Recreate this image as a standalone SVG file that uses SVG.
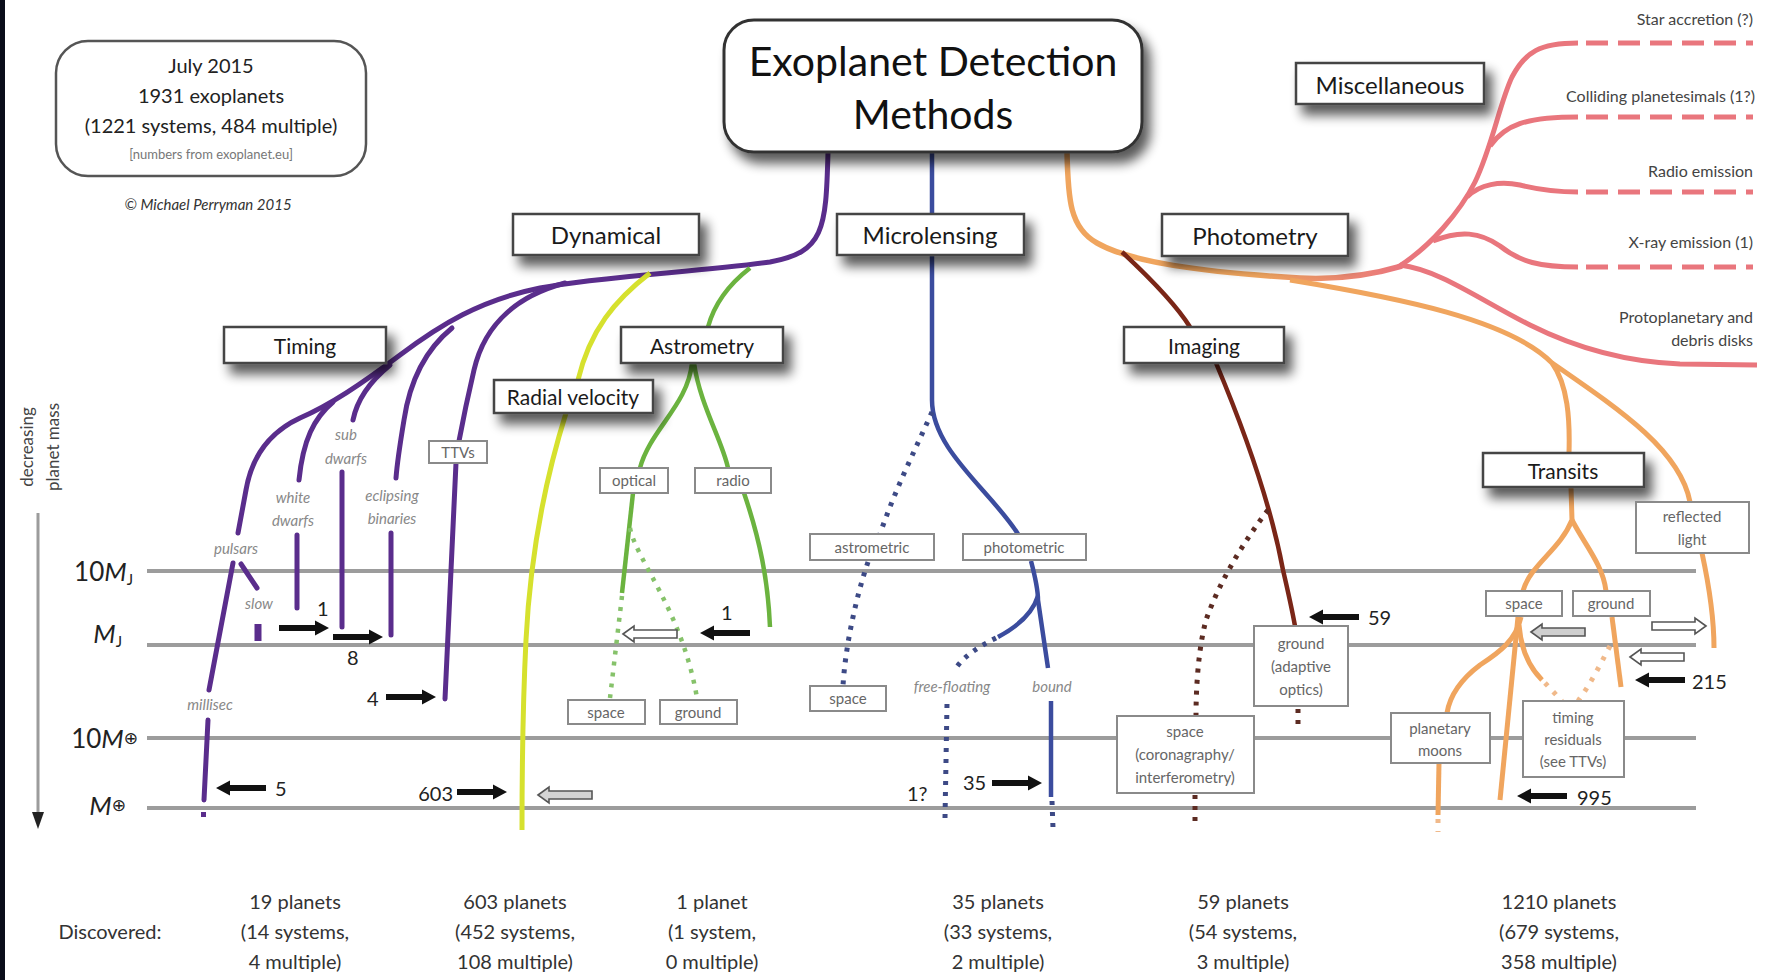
<svg xmlns="http://www.w3.org/2000/svg" width="1767" height="980" viewBox="0 0 1767 980">
<defs>
<filter id="sh" x="-20%" y="-40%" width="150%" height="220%">
<feGaussianBlur in="SourceAlpha" stdDeviation="6"/>
<feOffset dx="7" dy="10"/>
<feComponentTransfer><feFuncA type="linear" slope="0.65"/></feComponentTransfer>
<feMerge><feMergeNode/><feMergeNode in="SourceGraphic"/></feMerge>
</filter>
<linearGradient id="op" x1="1260" y1="0" x2="1400" y2="0" gradientUnits="userSpaceOnUse">
<stop offset="0" stop-color="#f0a55e"/><stop offset="1" stop-color="#e9767d"/>
</linearGradient>
<path id="barr" d="M0,-3 L36,-3 L36,-7.5 L50,0 L36,7.5 L36,3 L0,3 Z"/>
<path id="harr" d="M0,0 L11,-8 L11,-4 L54,-4 L54,4 L11,4 L11,8 Z"/>
<style>
text{font-family:Lato,'Open Sans','Liberation Sans',sans-serif}
.big{fill:#fff;stroke:#444;stroke-width:2.5}
.sm{fill:#fff;stroke:#8a8a8a;stroke-width:2}
.bt{font-size:24px;fill:#1a1a1a;text-anchor:middle;dominant-baseline:central}
.mt{font-size:21px;fill:#1a1a1a;text-anchor:middle;dominant-baseline:central}
.st{font-size:15px;fill:#666;text-anchor:middle;dominant-baseline:central}
.it{font-size:15px;fill:#888;text-anchor:middle;dominant-baseline:central;font-style:italic}
.num{font-size:20px;fill:#222;dominant-baseline:central}
.grid{stroke:#9c9c9c;stroke-width:4}
.pu{stroke:#5a2d8c;stroke-width:5;fill:none;stroke-linecap:round}
.yg{stroke:#d6e12e;stroke-width:5;fill:none}
.gr{stroke:#6bb33f;stroke-width:4.5;fill:none}
.grd{stroke:#86c26a;stroke-width:4.5;fill:none;stroke-dasharray:4 7}
.bl{stroke:#3b4c9e;stroke-width:4.5;fill:none}
.bld{stroke:#3d4a86;stroke-width:5;fill:none;stroke-dasharray:4 7}
.or{stroke:#f0a55e;stroke-width:5;fill:none}
.ord{stroke:#f0b98a;stroke-width:5;fill:none;stroke-dasharray:4 8}
.pk{stroke:#e9767d;stroke-width:5;fill:none}
.pkd{stroke:#e9767d;stroke-width:5;fill:none;stroke-dasharray:22 10}
.dr{stroke:#7a2617;stroke-width:4.5;fill:none}
.drd{stroke:#5c2b22;stroke-width:5;fill:none;stroke-dasharray:4 7}
.misc{font-size:16px;fill:#444;text-anchor:end}
.disc{font-size:20px;fill:#333;text-anchor:middle}
</style>
</defs>
<rect width="1767" height="980" fill="#fff"/>
<rect x="0" y="0" width="5" height="980" fill="#0a0d1a"/>

<!-- grid and axis -->
<g id="axis">
<line class="grid" x1="147" y1="571" x2="1696" y2="571"/>
<line class="grid" x1="147" y1="645" x2="1696" y2="645"/>
<line class="grid" x1="147" y1="738" x2="1696" y2="738"/>
<line class="grid" x1="147" y1="808" x2="1696" y2="808"/>
<line x1="38" y1="513" x2="38" y2="815" stroke="#9c9c9c" stroke-width="3"/>
<path d="M32,812 L44,812 L38,829 Z" fill="#222"/>
<text transform="translate(26,447) rotate(-90)" font-size="17" fill="#444" text-anchor="middle" dominant-baseline="central">decreasing</text>
<text transform="translate(52,447) rotate(-90)" font-size="17" fill="#444" text-anchor="middle" dominant-baseline="central">planet mass</text>
<text x="133" y="571" font-size="26" fill="#222" text-anchor="end" dominant-baseline="central">10<tspan font-style="italic">M</tspan><tspan font-size="15" dy="8">J</tspan></text>
<text x="122" y="633" font-size="26" fill="#222" text-anchor="end" dominant-baseline="central"><tspan font-style="italic">M</tspan><tspan font-size="15" dy="8">J</tspan></text>
<text x="138" y="738" font-size="26" fill="#222" text-anchor="end" dominant-baseline="central">10<tspan font-style="italic">M</tspan><tspan font-size="17" font-family="DejaVu Sans">⊕</tspan></text>
<text x="126" y="805" font-size="26" fill="#222" text-anchor="end" dominant-baseline="central"><tspan font-style="italic">M</tspan><tspan font-size="17" font-family="DejaVu Sans">⊕</tspan></text>
</g>

<!-- connectors -->
<g id="connectors">
<!-- dynamical / timing -->
<path class="pu" d="M828,152 C826,230 824,252 770,262 C700,272 600,276 540,288 C480,300 440,325 400,355 C360,385 330,405 300,418 C270,432 252,455 246,490 L238,533"/>
<path class="pu" d="M565,283 C520,295 485,322 474,370 C467,400 462,425 459,441"/>
<path class="pu" d="M456,463 L445,699"/>
<path class="pu" d="M452,328 C425,350 410,380 404,420 C399,450 397,465 396,478"/>
<path class="pu" d="M391,533 L391,635"/>
<path class="pu" d="M390,365 C368,383 357,400 353,420"/>
<path class="pu" d="M342,472 L342,627"/>
<path class="pu" d="M333,402 C314,418 303,440 299,480"/>
<path class="pu" d="M297,535 L297,608"/>
<path class="pu" d="M233,563 L209,690"/>
<path class="pu" d="M241,564 L257,588"/>
<path d="M258,624 L258,641" stroke="#5a2d8c" stroke-width="7"/>
<path class="pu" d="M208,720 L204,800"/>
<rect x="201" y="812" width="5" height="5" fill="#5a2d8c"/>
<!-- radial velocity -->
<path class="yg" d="M650,273 C615,300 590,330 578,380"/>
<path class="yg" d="M566,413 C545,480 530,560 526,640 C523,700 522,760 522,830"/>
<!-- astrometry -->
<path class="gr" d="M750,268 C728,285 714,305 708,327"/>
<path class="gr" d="M692,363 C688,405 650,430 640,468"/>
<path class="gr" d="M694,363 C700,405 722,440 728,468"/>
<path class="gr" d="M633,493 L622,593"/>
<path class="gr" d="M744,493 C760,540 768,580 770,627"/>
<path class="grd" d="M622,596 L610,698"/>
<path class="grd" d="M630,528 C636,560 682,610 697,698"/>
<!-- microlensing -->
<path class="bl" d="M932,152 L932,400 C932,450 990,490 1018,534"/>
<path class="bld" d="M932,412 C915,450 895,490 880,534"/>
<path class="bld" d="M868,562 C855,600 845,650 843,686"/>
<path class="bl" d="M1031,561 C1036,580 1038,590 1038,600 L1048,668"/>
<path class="bl" d="M1038,596 C1032,615 1015,628 998,637"/>
<path class="bld" d="M996,638 C980,646 965,655 956,668"/>
<path class="bld" d="M947,704 L945,818"/>
<path class="bl" d="M1051,701 L1051,797"/>
<path class="bld" d="M1052,801 L1053,828"/>
<!-- photometry trunk -->
<path d="M1067,152 C1068,200 1070,228 1097,243 C1130,262 1200,272 1300,278 C1340,280 1375,274 1402,266" stroke="url(#op)" stroke-width="5.5" fill="none"/>
<!-- imaging -->
<path class="dr" d="M1122,252 C1150,278 1175,303 1190,327"/>
<path class="dr" d="M1216,363 C1240,420 1270,500 1283,570 C1290,600 1293,615 1295,626"/>
<path class="drd" d="M1268,510 C1245,540 1220,580 1206,620 C1198,650 1196,690 1196,716"/>
<path class="drd" d="M1195,795 L1195,828"/>
<path class="drd" d="M1298,709 L1298,730"/>
<!-- miscellaneous -->
<path class="pk" d="M1398,267 C1430,247 1460,212 1475,182 C1492,147 1500,102 1512,77 C1525,52 1540,43 1578,43"/>
<path class="pkd" d="M1586,43 L1753,43"/>
<path class="pk" d="M1490,146 C1505,125 1525,117 1578,117"/>
<path class="pkd" d="M1586,117 L1753,117"/>
<path class="pk" d="M1467,197 C1480,184 1500,181 1520,185 C1540,190 1555,192 1578,192"/>
<path class="pkd" d="M1586,192 L1753,192"/>
<path class="pk" d="M1433,241 C1460,230 1480,232 1500,246 C1520,262 1540,267 1578,267"/>
<path class="pkd" d="M1586,267 L1753,267"/>
<path class="pk" d="M1400,265 C1440,270 1480,300 1530,325 C1580,350 1630,362 1680,364 L1757,365"/>
<!-- transits / reflected light -->
<path class="or" d="M1290,280 C1400,298 1510,320 1552,363 C1568,385 1570,420 1569,453"/>
<path class="or" d="M1552,363 C1620,410 1680,450 1690,502"/>
<path class="or" d="M1702,553 C1710,590 1714,620 1714,648"/>
<path class="or" d="M1571,487 L1572,520 C1560,550 1530,565 1523,591"/>
<path class="or" d="M1572,520 C1585,545 1603,565 1606,591"/>
<path class="or" d="M1521,617 C1516,640 1500,652 1480,665 C1460,680 1450,695 1447,713"/>
<path class="or" d="M1518,617 L1500,800"/>
<path class="or" d="M1519,625 C1521,650 1530,668 1542,680"/>
<path class="ord" d="M1545,683 L1562,701"/>
<path class="or" d="M1612,617 L1621,687"/>
<path class="ord" d="M1610,646 C1600,665 1590,685 1578,701"/>
<path class="or" d="M1439,763 L1438,815"/>
<path class="ord" d="M1438,819 L1438,832"/>
<!-- arrows -->
<g fill="#111">
<use href="#barr" transform="translate(279,628)"/>
<use href="#barr" transform="translate(333,637)"/>
<use href="#barr" transform="translate(386,697)"/>
<use href="#barr" transform="translate(266,788) scale(-1,1)"/>
<use href="#barr" transform="translate(457,792)"/>
<use href="#barr" transform="translate(750,633) scale(-1,1)"/>
<use href="#barr" transform="translate(992,783)"/>
<use href="#barr" transform="translate(1359,617) scale(-1,1)"/>
<use href="#barr" transform="translate(1685,680) scale(-1,1)"/>
<use href="#barr" transform="translate(1567,796) scale(-1,1)"/>
</g>
<g stroke="#555" stroke-width="1.6">
<use href="#harr" transform="translate(538,795)" fill="#d4d4d4"/>
<use href="#harr" transform="translate(623,634)" fill="#fff"/>
<use href="#harr" transform="translate(1531,632)" fill="#cfcfcf"/>
<use href="#harr" transform="translate(1706,626) scale(-1,1)" fill="#fff"/>
<use href="#harr" transform="translate(1630,657)" fill="#fff"/>
</g>
</g>

<!-- number labels -->
<g id="counts">
<text class="num" x="317" y="608">1</text>
<text class="num" x="347" y="657">8</text>
<text class="num" x="367" y="698">4</text>
<text class="num" x="275" y="788">5</text>
<text class="num" x="453" y="793" text-anchor="end">603</text>
<text class="num" x="721" y="612">1</text>
<text class="num" x="907" y="793">1?</text>
<text class="num" x="963" y="782">35</text>
<text class="num" x="1368" y="617">59</text>
<text class="num" x="1692" y="681">215</text>
<text class="num" x="1577" y="797">995</text>
</g>

<!-- plain labels -->
<g id="timing-labels">
<text class="it" x="236" y="548">pulsars</text>
<text class="it" x="293" y="497">white</text>
<text class="it" x="293" y="520">dwarfs</text>
<text class="it" x="346" y="434">sub</text>
<text class="it" x="346" y="458">dwarfs</text>
<text class="it" x="392" y="495">eclipsing</text>
<text class="it" x="392" y="518">binaries</text>
<text class="it" x="259" y="603">slow</text>
<text class="it" x="210" y="704">millisec</text>
<text class="it" x="952" y="686">free-floating</text>
<text class="it" x="1052" y="686">bound</text>
</g>

<!-- info box -->
<g id="info">
<rect x="56" y="41" width="310" height="135" rx="32" fill="#fff" stroke="#555" stroke-width="2.5"/>
<text x="211" y="65" font-size="20" fill="#222" text-anchor="middle" dominant-baseline="central">July 2015</text>
<text x="211" y="95" font-size="20" fill="#222" text-anchor="middle" dominant-baseline="central">1931 exoplanets</text>
<text x="211" y="125" font-size="20" fill="#222" text-anchor="middle" dominant-baseline="central">(1221 systems, 484 multiple)</text>
<text x="211" y="154" font-size="13" fill="#777" text-anchor="middle" dominant-baseline="central">[numbers from exoplanet.eu]</text>
<text x="208" y="204" font-size="15" fill="#333" text-anchor="middle" dominant-baseline="central" font-style="italic">© Michael Perryman 2015</text>
</g>

<!-- title -->
<g id="title">
<rect x="724" y="20" width="418" height="132" rx="30" fill="#fff" stroke="#333" stroke-width="3" filter="url(#sh)"/>
<text x="933" y="60" font-size="41" fill="#111" text-anchor="middle" dominant-baseline="central">Exoplanet Detection</text>
<text x="933" y="113" font-size="41" fill="#111" text-anchor="middle" dominant-baseline="central">Methods</text>
</g>

<!-- main category boxes -->
<g id="dynamical"><rect class="big" x="513" y="214" width="186" height="41" filter="url(#sh)"/><text class="bt" x="606" y="234">Dynamical</text></g>
<g id="microlensing"><rect class="big" x="837" y="214" width="187" height="41" filter="url(#sh)"/><text class="bt" x="930" y="234">Microlensing</text></g>
<g id="photometry"><rect class="big" x="1162" y="214" width="186" height="42" filter="url(#sh)"/><text class="bt" x="1255" y="235">Photometry</text></g>
<g id="miscellaneous"><rect class="big" x="1296" y="63" width="188" height="41" filter="url(#sh)"/><text class="bt" x="1390" y="84">Miscellaneous</text></g>
<g id="timing"><rect class="big" x="224" y="327" width="162" height="36" filter="url(#sh)"/><text class="mt" x="305" y="345">Timing</text></g>
<g id="astrometry"><rect class="big" x="621" y="327" width="162" height="36" filter="url(#sh)"/><text class="mt" x="702" y="345">Astrometry</text></g>
<g id="radial-velocity"><rect class="big" x="494" y="380" width="159" height="33" filter="url(#sh)"/><text class="mt" x="573" y="396">Radial velocity</text></g>
<g id="imaging"><rect class="big" x="1124" y="327" width="160" height="36" filter="url(#sh)"/><text class="mt" x="1204" y="345">Imaging</text></g>
<g id="transits"><rect class="big" x="1483" y="453" width="161" height="34" filter="url(#sh)"/><text class="mt" x="1563" y="470">Transits</text></g>

<!-- small boxes -->
<g id="ttvs"><rect class="sm" x="429" y="441" width="58" height="22"/><text class="st" x="458" y="452">TTVs</text></g>
<g id="optical"><rect class="sm" x="600" y="468" width="68" height="25"/><text class="st" x="634" y="480">optical</text></g>
<g id="radio"><rect class="sm" x="695" y="468" width="76" height="25"/><text class="st" x="733" y="480">radio</text></g>
<g id="astrometric"><rect class="sm" x="810" y="534" width="124" height="26"/><text class="st" x="872" y="547">astrometric</text></g>
<g id="photometric"><rect class="sm" x="963" y="534" width="123" height="26"/><text class="st" x="1024" y="547">photometric</text></g>
<g id="astro-space"><rect class="sm" x="568" y="700" width="77" height="24"/><text class="st" x="606" y="712">space</text></g>
<g id="astro-ground"><rect class="sm" x="660" y="700" width="77" height="24"/><text class="st" x="698" y="712">ground</text></g>
<g id="micro-space"><rect class="sm" x="810" y="686" width="76" height="25"/><text class="st" x="848" y="698">space</text></g>
<g id="img-ground"><rect class="sm" x="1254" y="626" width="94" height="80"/><text class="st" x="1301" y="643">ground</text><text class="st" x="1301" y="666">(adaptive</text><text class="st" x="1301" y="689">optics)</text></g>
<g id="img-space"><rect class="sm" x="1117" y="716" width="137" height="77"/><text class="st" x="1185" y="731">space</text><text class="st" x="1185" y="754">(coronagraphy/</text><text class="st" x="1185" y="777">interferometry)</text></g>
<g id="tr-space"><rect class="sm" x="1486" y="591" width="76" height="25"/><text class="st" x="1524" y="603">space</text></g>
<g id="tr-ground"><rect class="sm" x="1573" y="591" width="77" height="25"/><text class="st" x="1611" y="603">ground</text></g>
<g id="reflected"><rect class="sm" x="1636" y="502" width="113" height="51"/><text class="st" x="1692" y="516">reflected</text><text class="st" x="1692" y="539">light</text></g>
<g id="moons"><rect class="sm" x="1391" y="713" width="99" height="50"/><text class="st" x="1440" y="728">planetary</text><text class="st" x="1440" y="750">moons</text></g>
<g id="residuals"><rect class="sm" x="1523" y="701" width="101" height="76"/><text class="st" x="1573" y="717">timing</text><text class="st" x="1573" y="739">residuals</text><text class="st" x="1573" y="761">(see TTVs)</text></g>

<!-- misc labels -->
<g id="misc-labels">
<text class="misc" x="1753" y="25">Star accretion (?)</text>
<text class="misc" x="1755" y="102">Colliding planetesimals (1?)</text>
<text class="misc" x="1753" y="177">Radio emission</text>
<text class="misc" x="1753" y="248">X-ray emission (1)</text>
<text class="misc" x="1753" y="323">Protoplanetary and</text>
<text class="misc" x="1753" y="346">debris disks</text>
</g>

<!-- discovered -->
<g id="discovered">
<text x="110" y="931" font-size="20" fill="#333" text-anchor="middle" dominant-baseline="central">Discovered:</text>
<g dominant-baseline="central">
<text class="disc" x="295" y="901">19 planets</text><text class="disc" x="295" y="931">(14 systems,</text><text class="disc" x="295" y="961">4 multiple)</text>
<text class="disc" x="515" y="901">603 planets</text><text class="disc" x="515" y="931">(452 systems,</text><text class="disc" x="515" y="961">108 multiple)</text>
<text class="disc" x="712" y="901">1 planet</text><text class="disc" x="712" y="931">(1 system,</text><text class="disc" x="712" y="961">0 multiple)</text>
<text class="disc" x="998" y="901">35 planets</text><text class="disc" x="998" y="931">(33 systems,</text><text class="disc" x="998" y="961">2 multiple)</text>
<text class="disc" x="1243" y="901">59 planets</text><text class="disc" x="1243" y="931">(54 systems,</text><text class="disc" x="1243" y="961">3 multiple)</text>
<text class="disc" x="1559" y="901">1210 planets</text><text class="disc" x="1559" y="931">(679 systems,</text><text class="disc" x="1559" y="961">358 multiple)</text>
</g>
</g>
</svg>
